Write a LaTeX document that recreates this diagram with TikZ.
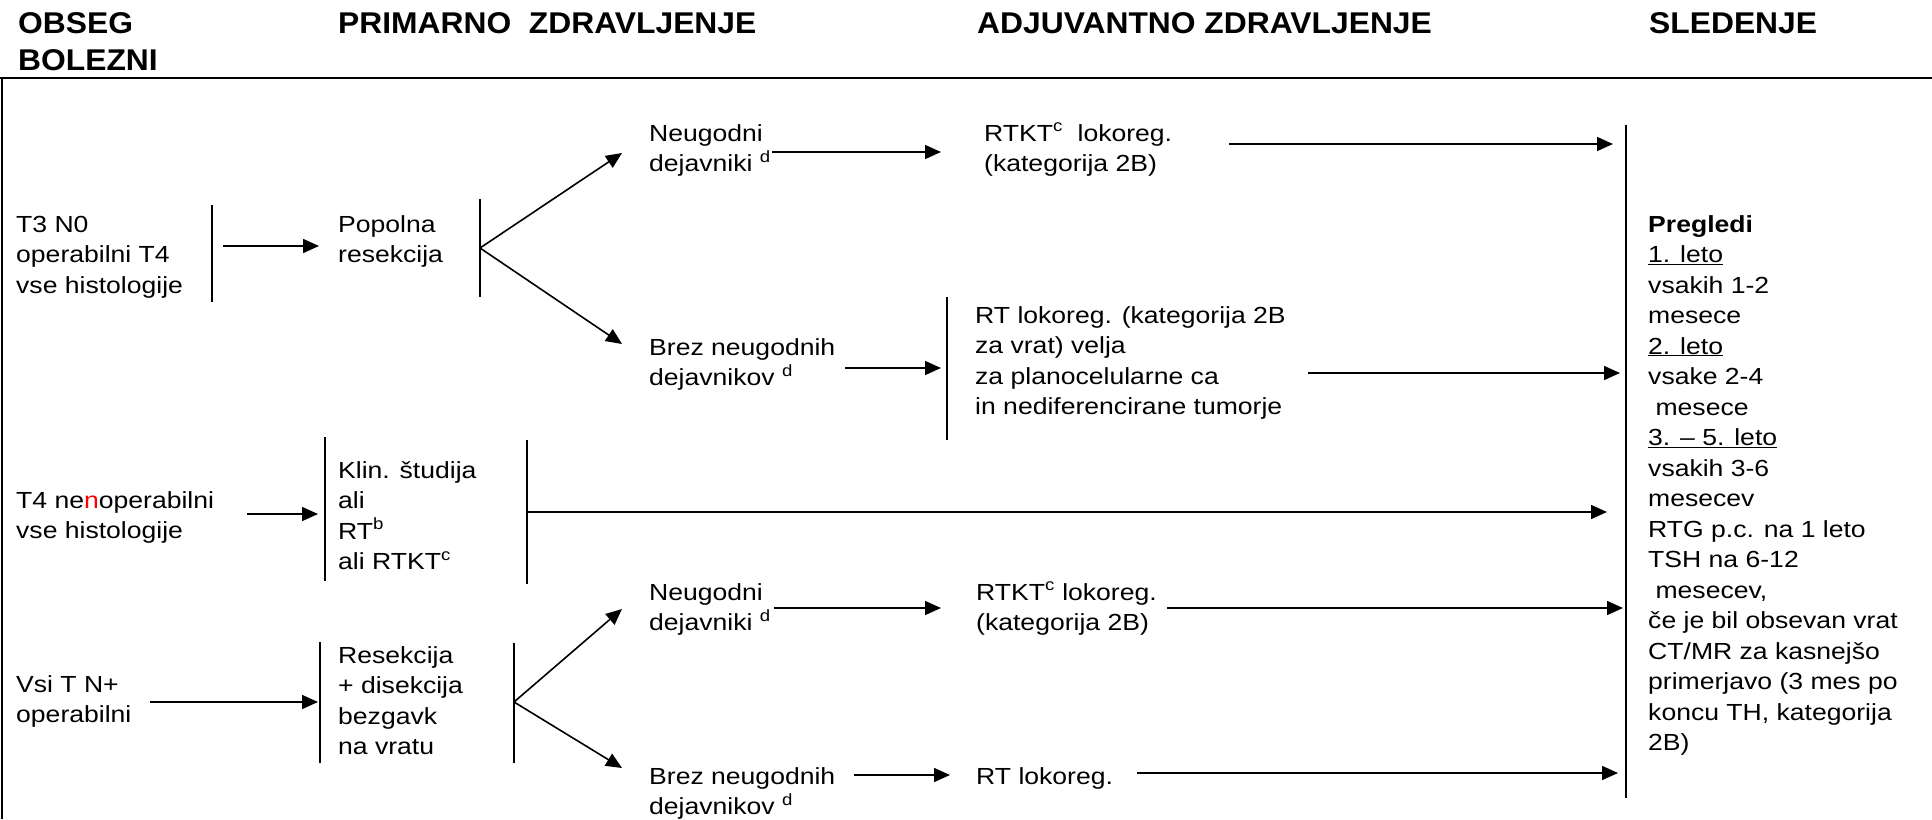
\documentclass[tikz,border=0pt]{standalone}
\usepackage{fontspec}
\setmainfont{Liberation Sans}[FakeStretch=1.14]
\newfontfamily\hdrfont{Liberation Sans}[FakeStretch=1.06]
\usetikzlibrary{arrows.meta}
\begin{document}
\begin{tikzpicture}[x=1pt,y=-1pt,
  txt/.style={anchor=base west, inner sep=0pt, align=left, font=\fontsize{23.3pt}{30.5pt}\selectfont},
  hdr/.style={anchor=base west, inner sep=0pt, align=left, font=\hdrfont\bfseries\fontsize{30pt}{37pt}\selectfont},
  bar/.style={line width=1.6pt},
  arr/.style={line width=1.6pt, -{Triangle[length=16pt,width=14pt]}},
  frameline/.style={line width=2.4pt}]
\useasboundingbox (0,0) rectangle (1932,819);
% note: the base anchor of a multi-line node is the baseline of its last line

% headers
\node[hdr] (hObs) at (18,70) {OBSEG\\BOLEZNI};
\node[hdr] (hPrim) at (338,33) {PRIMARNO\ \ ZDRAVLJENJE};
\node[hdr] (hAdj) at (977,33) {ADJUVANTNO ZDRAVLJENJE};
\node[hdr] (hSled) at (1649,33) {SLEDENJE};

% frame
\coordinate (fL) at (0,78);
\coordinate (fR) at (1932,78);
\coordinate (fT) at (2,78);
\coordinate (fB) at (2,819);
\draw[frameline] (fL) -- (fR);
\draw[frameline] (fT) -- (fB);

% ---------- row 1 ----------
\node[txt] (r1a) at (16,293) {T3 N0\\operabilni T4\\vse histologije};
\coordinate (b1t) at (212,205); \coordinate (b1b) at (212,302);
\draw[bar] (b1t) -- (b1b);
\coordinate (a1s) at (223,246); \coordinate (a1e) at (319,246);
\draw[arr] (a1s) -- (a1e);
\node[txt] (r1b) at (338,262.5) {Popolna\\resekcija};
\coordinate (b2t) at (480,199); \coordinate (b2b) at (480,297);
\draw[bar] (b2t) -- (b2b);
\coordinate (br1) at (480,248);
\coordinate (br1u) at (622,153);
\coordinate (br1d) at (622,344);
\draw[arr] (br1) -- (br1u);
\draw[arr] (br1) -- (br1d);

\node[txt] (r1c) at (649,171.5) {Neugodni\\dejavniki \textsuperscript{d}};
\coordinate (a2s) at (772,152); \coordinate (a2e) at (941,152);
\draw[arr] (a2s) -- (a2e);
\node[txt] (r1d) at (984,171.5) {RTKT\textsuperscript{c}\ \ lokoreg.\\(kategorija 2B)};
\coordinate (a3s) at (1229,144); \coordinate (a3e) at (1613,144);
\draw[arr] (a3s) -- (a3e);

\node[txt] (r1e) at (649,385.5) {Brez neugodnih\\dejavnikov \textsuperscript{d}};
\coordinate (a4s) at (845,368); \coordinate (a4e) at (941,368);
\draw[arr] (a4s) -- (a4e);
\coordinate (b3t) at (947,297); \coordinate (b3b) at (947,440);
\draw[bar] (b3t) -- (b3b);
\node[txt] (r1f) at (975,414.5) {RT lokoreg. (kategorija 2B\\za vrat) velja\\za planocelularne ca\\in nediferencirane tumorje};
\coordinate (a5s) at (1308,373); \coordinate (a5e) at (1620,373);
\draw[arr] (a5s) -- (a5e);

% follow-up column
\coordinate (bRt) at (1626,125); \coordinate (bRb) at (1626,798);
\draw[bar] (bRt) -- (bRb);
\node[txt] (fu) at (1648,750.5) {\textbf{Pregledi}\\\underline{1. leto}\\vsakih 1-2\\mesece\\\underline{2. leto}\\vsake 2-4\\\ mesece\\\underline{3. \textendash\ 5. leto}\\vsakih 3-6\\mesecev\\RTG p.c. na 1 leto\\TSH na 6-12\\\ mesecev,\\če je bil obsevan vrat\\CT/MR za kasnejšo\\primerjavo (3 mes po\\koncu TH, kategorija\\2B)};

% ---------- row 2 ----------
\node[txt] (r2a) at (16,538.5) {T4 ne\textcolor{red}{n}operabilni\\vse histologije};
\coordinate (a6s) at (247,514); \coordinate (a6e) at (318,514);
\draw[arr] (a6s) -- (a6e);
\coordinate (b4t) at (325,437); \coordinate (b4b) at (325,581);
\draw[bar] (b4t) -- (b4b);
\node[txt] (r2b) at (338,569.5) {Klin. študija\\ali\\RT\textsuperscript{b}\\ali RTKT\textsuperscript{c}};
\coordinate (b5t) at (527,440); \coordinate (b5b) at (527,584);
\draw[bar] (b5t) -- (b5b);
\coordinate (a7s) at (527,512); \coordinate (a7e) at (1607,512);
\draw[arr] (a7s) -- (a7e);

% ---------- row 3 ----------
\node[txt] (r3a) at (16,722.5) {Vsi T N+\\operabilni};
\coordinate (a8s) at (150,702); \coordinate (a8e) at (318,702);
\draw[arr] (a8s) -- (a8e);
\coordinate (b6t) at (320,642); \coordinate (b6b) at (320,763);
\draw[bar] (b6t) -- (b6b);
\node[txt] (r3b) at (338,754.5) {Resekcija\\+ disekcija\\bezgavk\\na vratu};
\coordinate (b7t) at (514,643); \coordinate (b7b) at (514,763);
\draw[bar] (b7t) -- (b7b);
\coordinate (br2) at (514,702);
\coordinate (br2u) at (622,609);
\coordinate (br2d) at (622,768);
\draw[arr] (br2) -- (br2u);
\draw[arr] (br2) -- (br2d);

\node[txt] (r3c) at (649,630.5) {Neugodni\\dejavniki \textsuperscript{d}};
\coordinate (a9s) at (774,608); \coordinate (a9e) at (941,608);
\draw[arr] (a9s) -- (a9e);
\node[txt] (r3d) at (976,630.5) {RTKT\textsuperscript{c} lokoreg.\\(kategorija 2B)};
\coordinate (a10s) at (1167,608); \coordinate (a10e) at (1623,608);
\draw[arr] (a10s) -- (a10e);

\node[txt] (r3e) at (649,814.5) {Brez neugodnih\\dejavnikov \textsuperscript{d}};
\coordinate (a11s) at (854,775); \coordinate (a11e) at (950,775);
\draw[arr] (a11s) -- (a11e);
\node[txt] (r3f) at (976,784) {RT lokoreg.};
\coordinate (a12s) at (1137,773); \coordinate (a12e) at (1618,773);
\draw[arr] (a12s) -- (a12e);
\end{tikzpicture}
\end{document}
